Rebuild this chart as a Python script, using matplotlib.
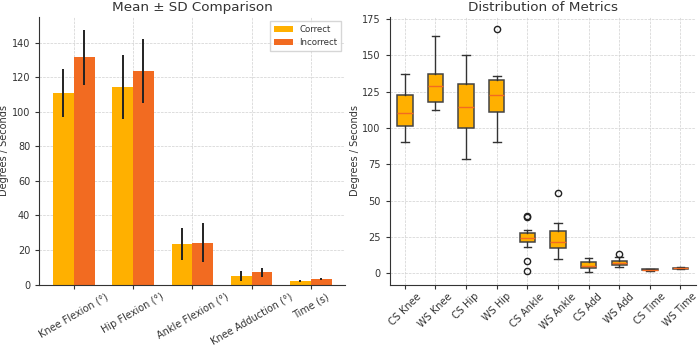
import matplotlib
matplotlib.use('Agg')
import matplotlib.pyplot as plt
import numpy as np

# bar chart data
metrics = ["Knee Flexion (°)", "Hip Flexion (°)", "Ankle Flexion (°)",
           "Knee Adduction (°)", "Time (s)"]
correct_mean = [111.0, 114.5, 23.5, 5.0, 2.2]
correct_sd = [14.0, 18.5, 9.5, 3.0, 0.5]
incorrect_mean = [131.5, 123.5, 24.3, 7.0, 3.2]
incorrect_sd = [16.0, 18.5, 11.5, 2.5, 0.8]

# box plot summary stats
box_labels = ["CS Knee", "WS Knee", "CS Hip", "WS Hip", "CS Ankle",
              "WS Ankle", "CS Add", "WS Add", "CS Time", "WS Time"]
whisker_lo = [90, 112, 78.5, 90, 18, 9.5, 0.5, 4, 1.5, 2.5]
q1 = [101, 118, 100, 111, 21.5, 17.5, 3.5, 5.5, 2.0, 3.0]
median = [110, 129, 114.5, 123, 24, 21.5, 5, 7, 2.2, 3.3]
q3 = [122.5, 137, 130, 133, 27.5, 29, 7.5, 8, 2.5, 3.7]
whisker_hi = [137, 163, 150, 136, 30, 34.5, 10.5, 11, 3.0, 4.5]
outliers = [[], [], [], [168], [38.5, 39, 8.5, 1.5], [55], [], [13], [], []]

C_CORRECT = "#FFB000"
C_INCORRECT = "#F26B21"
TXT = "#333333"

plt.rcParams['text.color'] = TXT
plt.rcParams['axes.labelcolor'] = TXT
plt.rcParams['xtick.color'] = TXT
plt.rcParams['ytick.color'] = TXT

fig, (ax1, ax2) = plt.subplots(1, 2, figsize=(7, 3.47), dpi=100)
fig.subplots_adjust(left=0.056, right=0.994, bottom=0.18, top=0.951, wspace=0.144)

x = np.arange(len(metrics))
w = 0.35
ax1.bar(x - w / 2, correct_mean, w, yerr=correct_sd, color=C_CORRECT,
        label="Correct", error_kw=dict(ecolor="#222222", elinewidth=1.4, capsize=0))
ax1.bar(x + w / 2, incorrect_mean, w, yerr=incorrect_sd, color=C_INCORRECT,
        label="Incorrect", error_kw=dict(ecolor="#222222", elinewidth=1.4, capsize=0))
ax1.set_xticks(x)
ax1.set_xticklabels(metrics, rotation=30, ha='center')
ax1.set_ylabel("Degrees / Seconds", fontsize=7, labelpad=2)
ax1.set_title("Mean ± SD Comparison", fontsize=9.7, color=TXT, pad=4)
ax1.legend(loc="upper right", fontsize=6.2, edgecolor="#cccccc", fancybox=False,
           handlelength=2.2)

stats = []
for i, lab in enumerate(box_labels):
    stats.append(dict(label=lab, whislo=whisker_lo[i], q1=q1[i], med=median[i],
                      q3=q3[i], whishi=whisker_hi[i], fliers=outliers[i]))
ax2.bxp(stats, patch_artist=True, widths=0.5,
        boxprops=dict(facecolor=C_CORRECT, edgecolor="#444444", linewidth=1.1),
        medianprops=dict(color=C_INCORRECT, linewidth=1),
        whiskerprops=dict(color="#333333", linewidth=1),
        capprops=dict(color="#333333", linewidth=1),
        flierprops=dict(marker='o', markerfacecolor='none',
                        markeredgecolor='#222222', markersize=4.5))
ax2.set_xticklabels(box_labels, rotation=45, ha='center')
ax2.set_ylabel("Degrees / Seconds", fontsize=7, labelpad=1.5)
ax2.set_title("Distribution of Metrics", fontsize=9.7, color=TXT, pad=4)

for ax in (ax1, ax2):
    ax.grid(True, linestyle='--', linewidth=0.5, color='#d0d0d0')
    ax.set_axisbelow(True)
    ax.spines['top'].set_visible(False)
    ax.spines['right'].set_visible(False)
    ax.spines['left'].set_color('#333333')
    ax.spines['bottom'].set_color('#333333')
    ax.tick_params(labelsize=7, length=3)
    ax.tick_params(axis='x', pad=2)

plt.savefig("out.png")
plt.close(fig)
